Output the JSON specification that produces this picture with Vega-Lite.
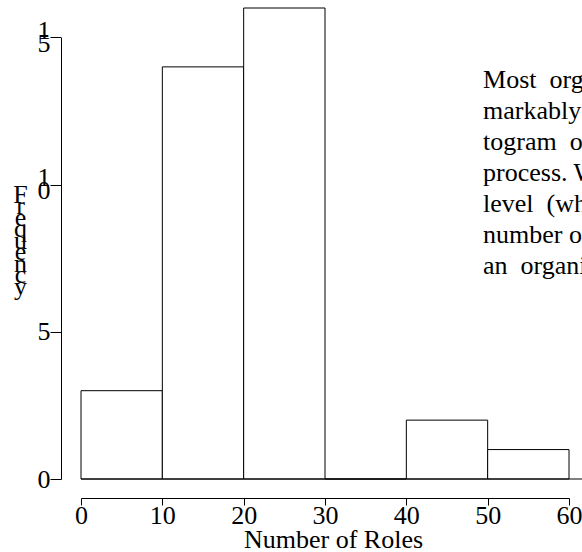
{
  "$schema": "https://vega.github.io/schema/vega-lite/v6.json",
  "width": 488,
  "height": 471,
  "autosize": {"type": "none"},
  "padding": {"left": 81, "top": 8, "right": 13, "bottom": 73},
  "background": "white",
  "config": {
    "view": {"stroke": null},
    "font": "Liberation Serif",
    "axis": {"labelFont": "Liberation Serif", "titleFont": "Liberation Serif", "labelColor": "black", "titleColor": "black", "domainColor": "black", "tickColor": "black", "grid": false, "labelFontSize": 26, "titleFontSize": 26, "titleFontWeight": "normal", "domainWidth": 1, "tickWidth": 1}
  },
  "datasets": {
    "bins": [
      {"start": 0, "end": 10, "count": 3},
      {"start": 10, "end": 20, "count": 14},
      {"start": 20, "end": 30, "count": 16},
      {"start": 30, "end": 40, "count": 0},
      {"start": 40, "end": 50, "count": 2},
      {"start": 50, "end": 60, "count": 1}
    ],
    "note": [
      {"lines": ["Most\u2002organizations have re-", "markably few roles. Figure shows a his-", "togram\u2002of the roles in each", "process. We count roles at the", "level\u2002(where they are defined)", "number of roles found in", "an\u2002organization."]}
    ]
  },
  "layer": [
    {
      "data": {"name": "bins"},
      "mark": {"type": "rect", "fill": "white", "stroke": "black", "strokeWidth": 1},
      "encoding": {
        "x": {"field": "start", "type": "quantitative", "scale": {"domain": [0, 60], "nice": false, "zero": false},
          "axis": {"values": [0, 10, 20, 30, 40, 50, 60], "offset": 19, "tickSize": 7, "labelPadding": -3, "labelFlush": false, "labelOverlap": false,
            "title": "Number of Roles", "titleX": 252, "titleY": 49, "titleBaseline": "alphabetic", "titleAnchor": null, "titleAlign": "center"}},
        "x2": {"field": "end"},
        "y": {"field": "count", "type": "quantitative", "scale": {"domain": [0, 16], "nice": false}, "axis": null},
        "y2": {"datum": 0}
      }
    },
    {
      "data": {"values": [{"k": 1}]},
      "mark": {"type": "rule", "color": "black", "strokeWidth": 1, "clip": false},
      "encoding": {
        "x": {"datum": 0, "type": "quantitative"},
        "x2": {"datum": 62},
        "y": {"datum": 0, "type": "quantitative", "scale": {"domain": [0, 16], "nice": false}, "axis": null}
      }
    },
    {
      "data": {"name": "bins"},
      "mark": {"type": "point", "opacity": 0, "clip": true},
      "encoding": {
        "y": {"field": "count", "type": "quantitative", "scale": {"domain": [0, 15], "nice": false, "range": [471, 29.44]},
          "axis": {"orient": "left", "values": [0, 5, 10, 15], "offset": 20, "tickSize": 11, "labelPadding": 0, "labelAlign": "right", "labelBaseline": "middle",
            "labelExpr": "split(datum.label, '')", "labelLineHeight": 13,
            "labelOffset": {"condition": {"test": "datum.value >= 10", "value": -7}, "value": 0},
            "labelFlush": false, "labelOverlap": false,
            "title": ["F", "r", "e", "q", "u", "e", "n", "c", "y"], "titleAngle": 0, "titleLineHeight": 11.5, "titleBaseline": "middle", "titleAlign": "center",
            "titleX": -41, "titleY": 186, "titleAnchor": null}}
      }
    },
    {
      "data": {"name": "note"},
      "mark": {"type": "text", "align": "left", "baseline": "alphabetic", "fontSize": 26, "lineHeight": 31, "font": "Liberation Serif", "color": "black", "clip": false},
      "encoding": {
        "x": {"datum": 49.43, "type": "quantitative"},
        "y": {"datum": 13.28, "type": "quantitative", "scale": {"domain": [0, 16], "nice": false}, "axis": null},
        "text": {"field": "lines"}
      }
    }
  ],
  "resolve": {"scale": {"y": "independent"}}
}
